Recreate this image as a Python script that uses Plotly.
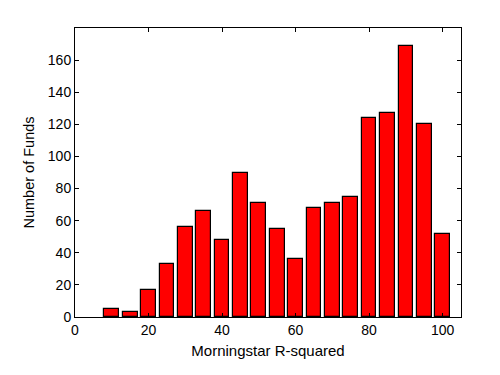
import plotly.graph_objects as go

r_squared = [10, 15, 20, 25, 30, 35, 40, 45, 50, 55, 60, 65, 70, 75, 80, 85, 90, 95, 100]
num_funds = [5, 3, 17, 33, 56, 66, 48, 90, 71, 55, 36, 68, 71, 75, 124, 127, 169, 120, 52]
x_ticks = [0, 20, 40, 60, 80, 100]
y_ticks = [0, 20, 40, 60, 80, 100, 120, 140, 160]

fig = go.Figure(go.Bar(
    x=r_squared, y=num_funds, width=4,
    marker=dict(color="#ff0000", line=dict(color="black", width=1.2)),
))

font_family = "Liberation Sans, Arial, sans-serif"
axis_common = dict(
    showline=True, linecolor="black", linewidth=1, mirror="ticks",
    ticks="inside", ticklen=4, tickcolor="black", tickwidth=1,
    showgrid=False, zeroline=False,
    tickfont=dict(family=font_family, size=14, color="black"),
)

fig.update_layout(
    width=500, height=375,
    margin=dict(l=67, r=47, t=20, b=66),
    paper_bgcolor="white", plot_bgcolor="white",
    showlegend=False, bargap=0,
    xaxis=dict(range=[0, 105], tickvals=x_ticks, ticktext=[str(v) for v in x_ticks],
               title=dict(text="Morningstar R-squared", standoff=8,
                          font=dict(family=font_family, size=15, color="black")),
               **axis_common),
    yaxis=dict(range=[0, 180], tickvals=y_ticks, ticktext=[str(v) for v in y_ticks],
               title=dict(text="Number of Funds", standoff=9,
                          font=dict(family=font_family, size=14.5, color="black")),
               **axis_common),
)

fig.write_html("out.html")
